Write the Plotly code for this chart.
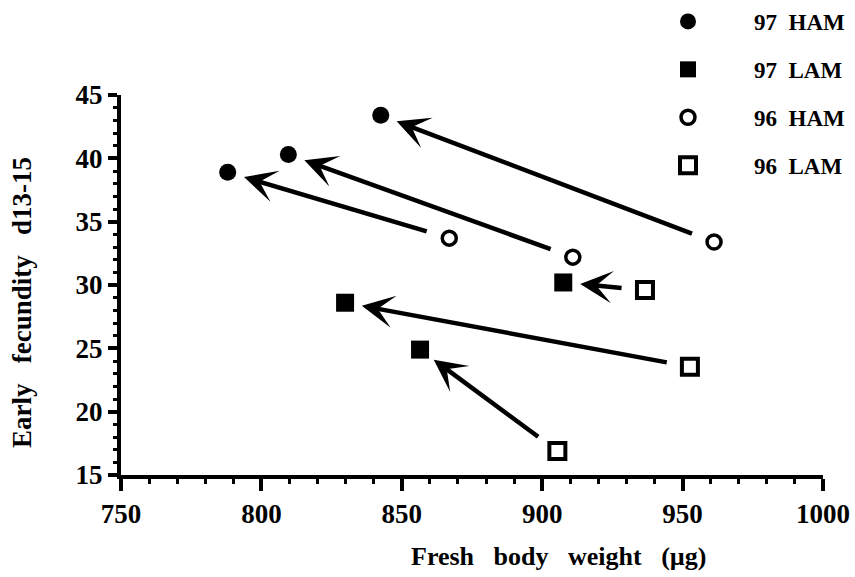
import plotly.graph_objects as go

# Data (fresh body weight in ug, early fecundity d13-15)
ham97_x = [842.5, 809.6, 788.0]
ham97_y = [43.4, 40.3, 38.9]
lam97_x = [829.8, 856.5, 907.5]
lam97_y = [28.6, 24.9, 30.2]
ham96_x = [961.2, 910.9, 866.9]
ham96_y = [33.4, 32.2, 33.7]
lam96_x = [952.6, 905.4, 936.6]
lam96_y = [23.55, 16.9, 29.6]

x_ticks = [750, 800, 850, 900, 950, 1000]
y_ticks = [15, 20, 25, 30, 35, 40, 45]

FONT = "Liberation Serif"
PAD = "\u00a0" * 8

fig = go.Figure()
fig.add_trace(go.Scatter(x=ham97_x, y=ham97_y, mode="markers", name=PAD + "97  HAM", legendgroup="a",
                         marker=dict(symbol="circle", size=17, color="black")))
fig.add_trace(go.Scatter(x=lam97_x, y=lam97_y, mode="markers", name=PAD + "97  LAM", legendgroup="b",
                         marker=dict(symbol="square", size=18, color="black")))
fig.add_trace(go.Scatter(x=ham96_x, y=ham96_y, mode="markers", name=PAD + "96  HAM", legendgroup="c",
                         marker=dict(symbol="circle-open", size=14, color="black", line=dict(width=3.5, color="black"))))
fig.add_trace(go.Scatter(x=lam96_x, y=lam96_y, mode="markers", name=PAD + "96  LAM", legendgroup="d",
                         marker=dict(symbol="square-open", size=16, color="black", line=dict(width=4, color="black"))))

annotations = []
for tx, ty, hx, hy in list(zip(ham96_x, ham96_y, ham97_x, ham97_y)) + list(zip(
        [lam96_x[2], lam96_x[0], lam96_x[1]], [lam96_y[2], lam96_y[0], lam96_y[1]],
        [lam97_x[2], lam97_x[0], lam97_x[1]], [lam97_y[2], lam97_y[0], lam97_y[1]])):
    annotations.append(dict(x=hx, y=hy, ax=tx, ay=ty, xref="x", yref="y", axref="x", ayref="y",
                            text="", showarrow=True, arrowhead=3, arrowsize=1.2, arrowwidth=4.5,
                            arrowcolor="black", standoff=17, startstandoff=22))

pw, ph = 855 - 121 - 32, 577 - 95 - 102
def px2paper(px, py):
    return (px - 121) / pw, (577 - 102 - py) / ph

tx_, ty_ = px2paper(558, 556)
annotations.append(dict(text="Fresh   body   weight   (\u00b5g)", x=tx_, y=ty_, xref="paper", yref="paper",
                        xanchor="center", yanchor="middle",
                        showarrow=False, font=dict(family=FONT, size=26, color="black", weight="bold")))
tx_, ty_ = px2paper(22, 303)
annotations.append(dict(text="Early   fecundity   d13-15", x=tx_, y=ty_, textangle=-90, xref="paper", yref="paper",
                        xanchor="center", yanchor="middle",
                        showarrow=False, font=dict(family=FONT, size=27, color="black", weight="bold")))

lx, ly = px2paper(668, 0)
fig.update_layout(
    width=855, height=577,
    margin=dict(l=121, r=32, t=95, b=102, autoexpand=False),
    plot_bgcolor="white", paper_bgcolor="white",
    font=dict(family=FONT, size=27, color="black", weight="bold"),
    showlegend=True,
    legend=dict(x=lx, y=ly, xanchor="left", yanchor="top", xref="paper", yref="paper",
                font=dict(family=FONT, size=23, color="black", weight="bold"),
                tracegroupgap=15, bgcolor="rgba(0,0,0,0)"),
    xaxis=dict(range=[750, 1000], tickvals=x_ticks, showgrid=False, zeroline=False,
               showline=True, linewidth=4, linecolor="black", ticks="outside", ticklen=12, tickwidth=4,
               tickcolor="black", minor=dict(dtick=10, ticks="outside", ticklen=5, tickwidth=3, tickcolor="black"),
               tickfont=dict(family=FONT, size=27, color="black", weight="bold")),
    yaxis=dict(range=[15, 45], tickvals=y_ticks, showgrid=False, zeroline=False,
               showline=True, linewidth=4, linecolor="black", ticks="outside", ticklen=9, tickwidth=4,
               tickcolor="black", minor=dict(dtick=1, ticks="outside", ticklen=4, tickwidth=3, tickcolor="black"),
               tickfont=dict(family=FONT, size=27, color="black", weight="bold")),
    annotations=annotations,
)
fig.write_html("out.html")
